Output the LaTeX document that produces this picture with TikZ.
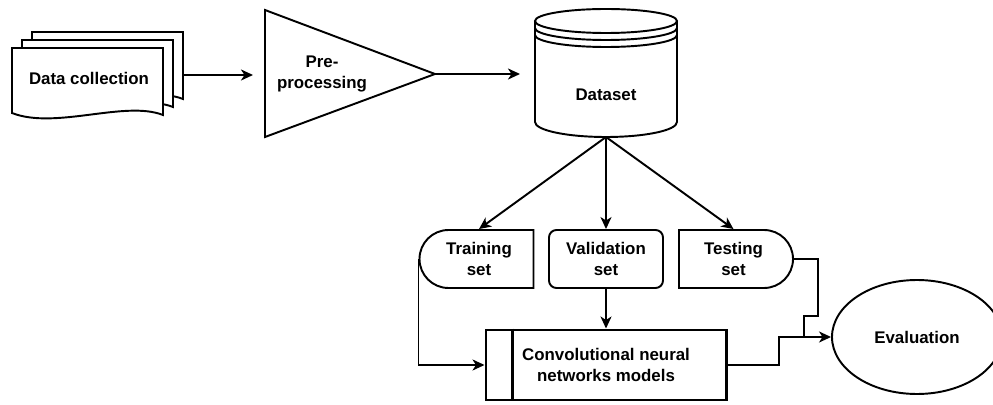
\documentclass[tikz,border=0pt]{standalone}
\usepackage{fontspec}
\setmainfont{Liberation Sans}
\usepackage{tikz}
\usetikzlibrary{shapes.geometric,shapes.misc,arrows.meta,positioning,calc}

\begin{document}
\begin{tikzpicture}[scale=1.0, line width=1.1pt,
  >={Stealth[length=2.4mm,width=2.2mm,inset=0.7mm]},
  every node/.style={font=\fontsize{9.6}{11.5}\selectfont\bfseries, align=center},
  setbox/.style={draw, minimum width=2.28cm, minimum height=1.16cm, inner sep=0pt}]
\useasboundingbox (0,0) rectangle (19.86,8.08);

% Data collection (stacked documents)
\foreach \d in {2,1,0}
  \draw[fill=white, shift={(\d*0.2,\d*0.16)}] (0.24,7.12) -- (3.26,7.12) -- (3.26,5.78)
    .. controls (2.50,6.08) and (1.10,5.48) .. (0.24,5.82) -- cycle;
\node (collect) at (1.78,6.52) {Data collection};
\coordinate (collect out) at (3.66,6.58);

% Pre-processing
\coordinate (prep top) at (5.30,7.88);
\coordinate (prep tip) at (8.70,6.60);
\coordinate (prep bot) at (5.30,5.34);
\draw (prep top) -- (prep tip) -- (prep bot) -- cycle;
\node (prep) at (6.44,6.60) {Pre-\\processing};
\coordinate (prep in) at (5.30,6.58);
\draw[->, shorten >=0.24cm] (collect out) -- (prep in);

% Dataset
\draw[fill=white] (10.70,7.66) -- (10.70,5.64)
  arc[start angle=180, end angle=360, x radius=1.42, y radius=0.30] -- (13.54,7.66);
\draw (12.12,7.66) ellipse [x radius=1.42, y radius=0.24];
\draw (10.70,7.52) arc[start angle=180, end angle=360, x radius=1.42, y radius=0.24];
\draw (10.70,7.38) arc[start angle=180, end angle=360, x radius=1.42, y radius=0.24];
\node (data) at (12.12,6.18) {Dataset};
\coordinate (data in) at (10.70,6.60);
\coordinate (data bot) at (12.12,5.34);
\draw[->, shorten >=0.3cm] (prep tip) -- (data in);

% Splits
\node[setbox, rounded rectangle, rounded rectangle right arc=none] (train) at (9.58,2.90) {Training\\set};
\node[setbox, rounded corners=0.15cm] (valid) at (12.12,2.90) {Validation\\set};
\node[setbox, rounded rectangle, rounded rectangle left arc=none] (test) at (14.67,2.90) {Testing\\set};
\foreach \s in {train,valid,test}
  \draw[->] (data bot) -- (\s.north);

% Models
\node[draw, line width=1.7pt, minimum width=4.8cm, minimum height=1.4cm] (cnn) at (12.12,0.78)
  {Convolutional neural\\networks models};
\draw[line width=1.7pt] ([xshift=0.56cm]cnn.north west) -- ([xshift=0.56cm]cnn.south west);
\draw[->] (train.west) |- (cnn.west);
\draw[->] (valid.south) -- (cnn.north);

% Evaluation
\node[draw, ellipse, minimum width=3.4cm, minimum height=2.28cm, inner sep=0pt] (eval) at (18.34,1.34) {Evaluation};
\coordinate (join) at (16.08,1.34);
\draw (test.east) -| (16.36,1.76) -| (join);
\draw (cnn.east) -| (15.58,1.34) -- (join);
\draw[->] (join) -- (eval.west);
\end{tikzpicture}
\end{document}
